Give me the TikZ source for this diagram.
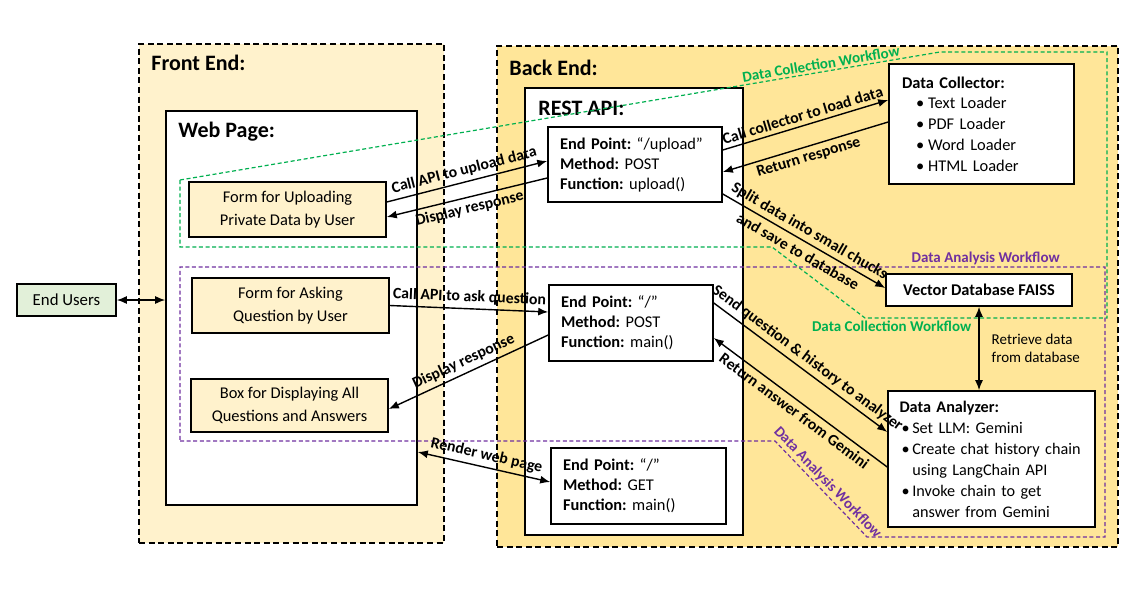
\documentclass[tikz,border=0pt]{standalone}
\usepackage{fontspec}
\setmainfont{Carlito}
\usetikzlibrary{fit,arrows.meta}

\definecolor{frontfill}{HTML}{FFF2CC}
\definecolor{backfill}{HTML}{FFE699}
\definecolor{userfill}{HTML}{E2F0D9}
\definecolor{flowgreen}{HTML}{00B050}
\definecolor{flowpurple}{HTML}{7030A0}

\begin{document}
\frenchspacing
\begin{tikzpicture}[x=0.5pt,y=-0.5pt,>={Latex[length=5pt,width=4pt]},
    frame/.style={draw,line width=0.8pt,dash pattern=on 3pt off 1.8pt,inner sep=0pt},
    panel/.style={draw,fill=white,line width=0.8pt,inner sep=0pt},
    heading/.style={anchor=west,inner sep=0pt,font=\bfseries\fontsize{11}{13}\selectfont},
    formbox/.style={draw,fill=frontfill,line width=0.8pt,align=center,font=\fontsize{8.2}{11.2}\selectfont},
    epbox/.style={draw,fill=white,line width=0.8pt,align=left,inner xsep=6pt,font=\fontsize{8.2}{10}\selectfont},
    listbox/.style={draw,fill=white,line width=0.8pt,align=left,inner xsep=6.5pt,font=\fontsize{8.2}{10.4}\selectfont},
    flow/.style={line width=0.6pt,dash pattern=on 2pt off 1.3pt},
    flowlbl/.style={inner sep=1pt,font=\bfseries\fontsize{7.5}{9}\selectfont},
    lbl/.style={inner sep=2pt,font=\bfseries\fontsize{7.9}{9.5}\selectfont},
    conn/.style={line width=0.7pt}]
\useasboundingbox (0,0) rectangle (1143,595);

% containers
\node[frame,fill=frontfill,fit={(139,44)(444,543)}] (frontend) {};
\node[frame,fill=backfill,fit={(497,46)(1118,547)}] (backend) {};
\node[panel,fit={(166,111)(417,505)}] (webpage) {};
\node[panel,fit={(525,88)(743,535)}] (restapi) {};
\node[heading] (fetitle) at (151,63) {Front End:};
\node[heading] (betitle) at (509,68) {Back End:};
\node[heading] (wptitle) at (178,132) {Web Page:};
\node[heading] (apititle) at (538,108) {REST API:};

% workflows
\draw[flow,flowgreen] (180,180) -- (940,52)
    node[flowlbl,pos=0.845,above,sloped] {Data Collection Workflow}
  -- (1107,52) -- (1107,318) -- (865,318)
    node[flowlbl,pos=0.89,below] {Data Collection Workflow}
  -- (772,247) -- (180,247) -- cycle;
\draw[flow,flowpurple] (180,441) -- (775,441) -- (867,537)
    node[flowlbl,pos=0.5,above,sloped] {Data Analysis Workflow}
  -- (1105,537) -- (1105,267) -- (180,267)
    node[flowlbl,pos=0.129,above] {Data Analysis Workflow}
  -- cycle;

% boxes
\node[draw,fill=userfill,line width=0.8pt,minimum width=49.5pt,minimum height=16pt,font=\fontsize{8.4}{10}\selectfont] (endusers) at (66.5,300) {End Users};
\node[formbox,minimum width=98.5pt,minimum height=27.5pt] (upform) at (287.5,209.5) {Form for Uploading\\Private Data by User};
\node[formbox,minimum width=98.5pt,minimum height=27.5pt] (askform) at (290.5,305.5) {Form for Asking\\Question by User};
\node[formbox,minimum width=98.5pt,minimum height=26.5pt] (qabox) at (289.5,405.5) {Box for Displaying All\\Questions and Answers};
\node[epbox,text width=75pt,minimum height=37.5pt] (epupload) at (635,164.5)
  {\textbf{End Point:} “/upload”\\\textbf{Method:} POST\\\textbf{Function:} upload()};
\node[epbox,text width=70pt,minimum height=38pt] (eppost) at (631,323)
  {\textbf{End Point:} “/”\\\textbf{Method:} POST\\\textbf{Function:} main()};
\node[epbox,text width=75.5pt,minimum height=38pt] (epget) at (638.5,486)
  {\textbf{End Point:} “/”\\\textbf{Method:} GET\\\textbf{Function:} main()};
\node[listbox,text width=79.5pt,minimum height=60pt] (collector) at (981.5,124)
  {\textbf{Data Collector:}\\
   \hspace*{7pt}\textbullet\hspace{2pt}Text Loader\\
   \hspace*{7pt}\textbullet\hspace{2pt}PDF Loader\\
   \hspace*{7pt}\textbullet\hspace{2pt}Word Loader\\
   \hspace*{7pt}\textbullet\hspace{2pt}HTML Loader};
\node[draw,fill=white,line width=0.8pt,minimum width=93pt,minimum height=16pt,font=\bfseries\fontsize{8.2}{10}\selectfont] (vecdb) at (979,290) {Vector Database FAISS};
\node[listbox,inner xsep=5.75pt,text width=92pt,minimum height=68pt,font=\fontsize{8.1}{10.5}\selectfont] (analyzer) at (991.5,459)
  {\textbf{Data Analyzer:}\\
   \hspace*{1pt}\textbullet\,Set LLM: Gemini\\
   \hspace*{1pt}\textbullet\,Create chat history chain\\
   \hspace*{1pt}\hphantom{\textbullet\,}using LangChain API\\
   \hspace*{1pt}\textbullet\,Invoke chain to get\\
   \hspace*{1pt}\hphantom{\textbullet\,}answer from Gemini};

% connectors
\draw[conn,<->] (endusers.east) -- (endusers.east -| webpage.west);
\draw[conn,->] ([yshift=3.75pt]upform.east) -- node[lbl,above,sloped] {Call API to upload data} ([yshift=1.75pt]epupload.west);
\draw[conn,->] ([yshift=-6.75pt]epupload.west) -- node[lbl,below,sloped] {Display response} ([yshift=-3.75pt]upform.east);
\draw[conn,->] ([yshift=7.25pt]epupload.east) -- node[lbl,above,sloped] {Call collector to load data} ([yshift=12pt]collector.west);
\draw[conn,->] ([yshift=1pt]collector.west) -- node[lbl,below,sloped] {Return response} ([yshift=-3.75pt]epupload.east);
\draw[conn,->] ([yshift=-14.75pt]epupload.east) -- node[lbl,sloped,align=center,font=\bfseries\fontsize{7.9}{12}\selectfont] {Split data into small chucks\\and save to database} ([yshift=1pt]vecdb.west);
\draw[conn,->] (askform.east) -- node[lbl,above,sloped] {Call API to ask question} ([yshift=5.5pt]eppost.west);
\draw[conn,->] ([yshift=-6pt]eppost.west) -- node[lbl,above,sloped] {Display response} ([yshift=-1.75pt]qabox.east);
\draw[conn,->] ([yshift=10pt]eppost.east) -- node[lbl,above,sloped] {Send question \& history to analyzer} ([yshift=13.5pt]analyzer.west);
\draw[conn,->] ([yshift=-4pt]analyzer.west) -- node[lbl,below,sloped] {Return answer from Gemini} ([yshift=-7.5pt]eppost.east);
\draw[conn,<->] (vecdb.south) -- (vecdb.south |- analyzer.north)
  node[midway,right,xshift=5pt,align=left,inner sep=1pt,font=\fontsize{7.5}{9}\selectfont] {Retrieve data\\from database};
\draw[conn,<->] ([yshift=-72pt]webpage.east) -- node[lbl,above,sloped] {Render web page} ([yshift=2pt]epget.west);
\end{tikzpicture}
\end{document}
